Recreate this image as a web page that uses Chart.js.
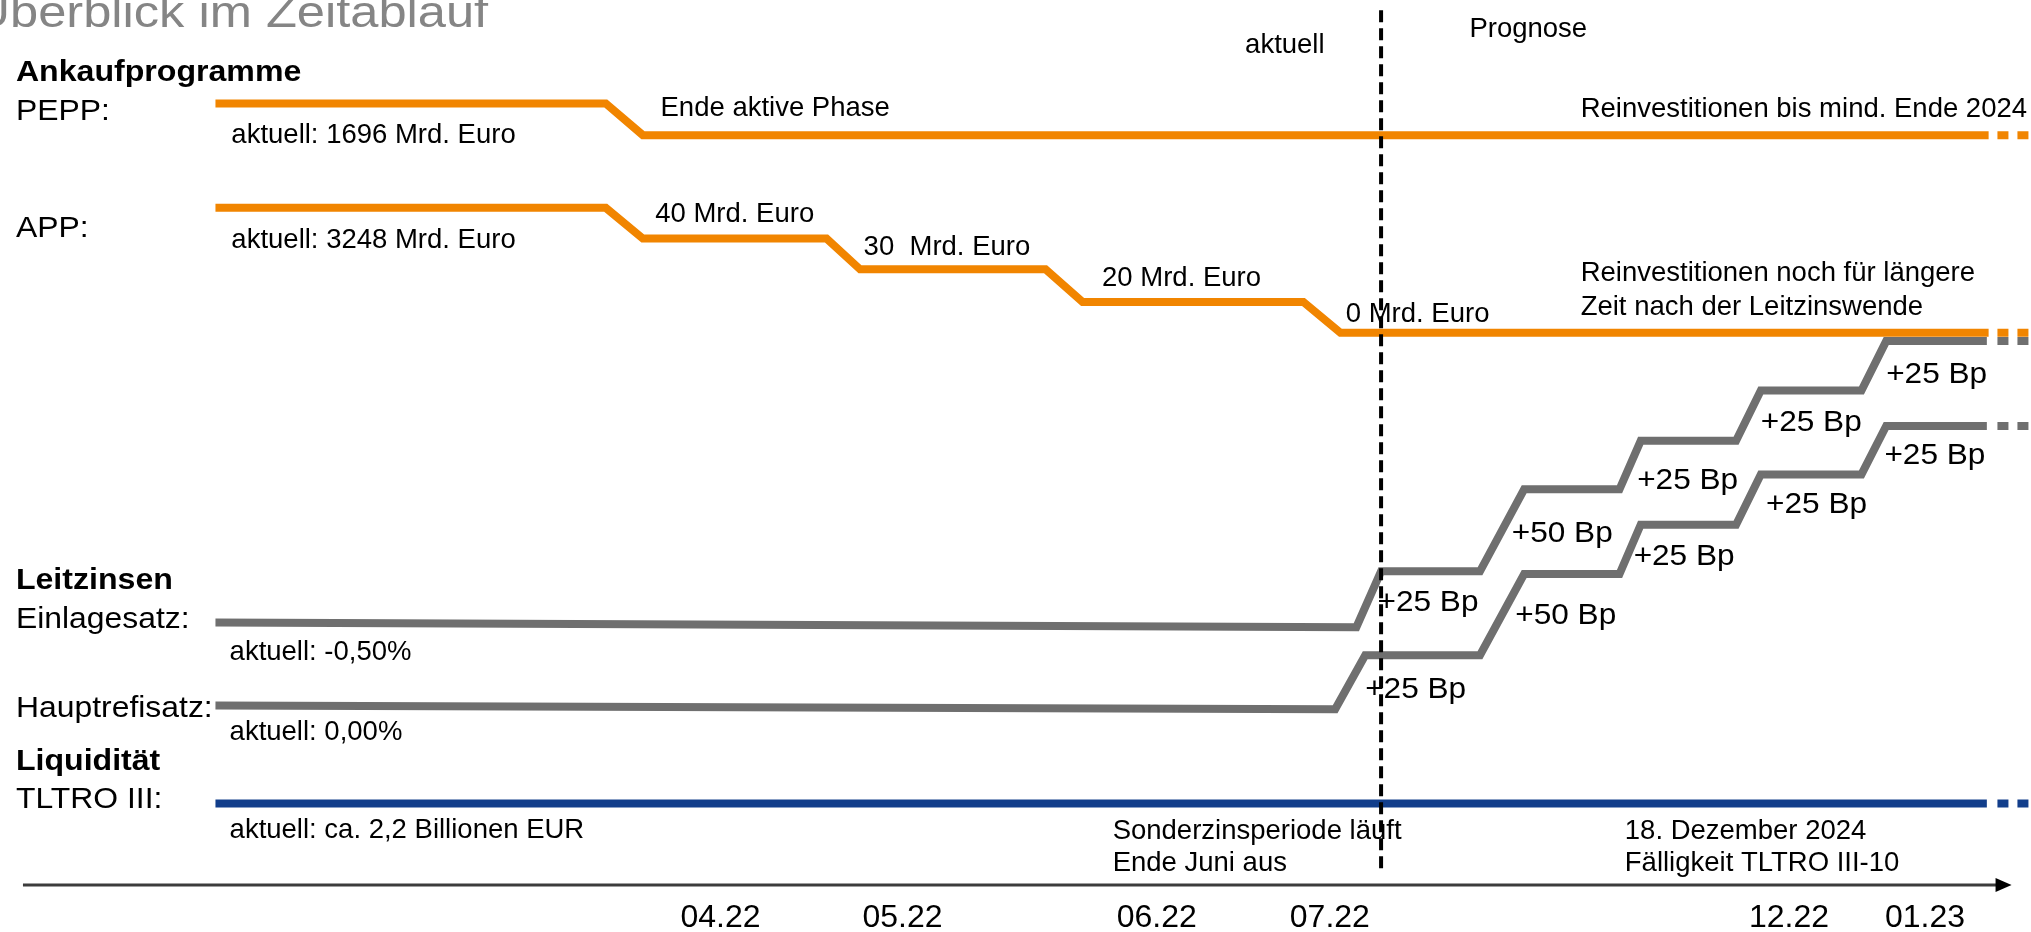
<!DOCTYPE html>
<html lang="de">
<head>
    <meta charset="UTF-8">
    <title>Überblick im Zeitablauf</title>
    <script src="https://cdn.jsdelivr.net/npm/chart.js"></script>
    <style>
        body {
            margin: 0;
            padding: 0;
            background: #fff;
            overflow: hidden;
        }
        canvas {
            display: block;
        }
    </style>
</head>
<body>
    <canvas id="zeitachse" width="2031" height="932"></canvas>
    <script>
        // Zeitachse (schematisch, 0 ... 115) und Höhe der Zeilen (0 ... 100)
        const monate = ['04.22', '05.22', '06.22', '07.22', '12.22', '01.23'];
        const monatPos = [40.8, 51.1, 65.5, 75.3, 101.3, 109.0];

        // Ankaufprogramme
        const peppX = [12.2, 34.3, 36.4, 112.6];
        const peppY = [88.9, 88.9, 85.5, 85.5];
        const appX = [12.2, 34.3, 36.4, 46.8, 48.7, 59.2, 61.3, 73.8, 75.9, 112.6];
        const appY = [77.7, 77.7, 74.4, 74.4, 71.1, 71.1, 67.6, 67.6, 64.3, 64.3];

        // Leitzinsen (Stufen teilen sich die Zeitpunkte ab der 2. Erhöhung)
        const stufenX = [83.8, 86.3, 91.7, 92.9, 98.3, 99.7, 105.4, 106.8, 112.5];
        const einlageX = [12.2, 76.8, 78.2, ...stufenX];
        const einlageY = [33.2, 32.7, 38.7, 38.7, 47.5, 47.5, 52.7, 52.7, 58.1, 58.1, 63.4, 63.4];
        const hauptX = [12.2, 75.6, 77.3, ...stufenX];
        const hauptY = [24.3, 23.9, 29.7, 29.7, 38.4, 38.4, 43.7, 43.7, 49.1, 49.1, 54.3, 54.3];

        // Liquidität
        const tltroX = [12.2, 112.5];
        const tltroY = [13.8, 13.8];

        // Fortsetzung (gepunktet) nach rechts
        const weiterX = [113.1, 115];

        // Stichtag "aktuell"
        const aktuellX = 78.2;
        const aktuellVon = 6.3;
        const aktuellBis = 98.9;

        const orange = '#f18500';
        const grau = '#6f6f6f';
        const blau = '#123e8b';

        function pts(xs, ys) {
            return xs.map((x, i) => ({ x: x, y: ys[i] }));
        }

        function linie(xs, ys, farbe, extra) {
            return Object.assign({
                data: pts(xs, ys),
                borderColor: farbe,
                borderWidth: 8,
                pointRadius: 0,
                tension: 0,
                fill: false,
                borderJoinStyle: 'miter',
                borderCapStyle: 'butt',
                clip: false
            }, extra || {});
        }

        function weiter(y, farbe) {
            return linie(weiterX, [y, y], farbe, { borderDash: [11, 9] });
        }

        // Schriftstile
        const stil = {
            titel: { size: 44, sx: 1.15, weight: 'normal', color: '#858585' },
            kopf: { size: 30, sx: 1.07, weight: 'bold', color: '#000' },
            name: { size: 29, sx: 1.1, weight: 'normal', color: '#000' },
            notiz: { size: 27.5, sx: 1.0, weight: 'normal', color: '#000' },
            bp: { size: 29.5, sx: 1.07, weight: 'normal', color: '#000' },
            monat: { size: 32, sx: 1.0, weight: 'normal', color: '#000', align: 'center' }
        };

        // Beschriftungen [Text, x, y, Stil]
        const texte = [
            ['\u00dcberblick im Zeitablauf', -1.5, 97.1, 'titel'],
            ['Ankaufprogramme', 0.9, 91.3, 'kopf'],
            ['PEPP:', 0.9, 87.1, 'name'],
            ['APP:', 0.9, 74.6, 'name'],
            ['Leitzinsen', 0.9, 36.8, 'kopf'],
            ['Einlagesatz:', 0.9, 32.6, 'name'],
            ['Hauptrefisatz:', 0.9, 23.1, 'name'],
            ['Liquidität', 0.9, 17.4, 'kopf'],
            ['TLTRO III:', 0.9, 13.3, 'name'],

            ['aktuell: 1696 Mrd. Euro', 13.1, 84.7, 'notiz'],
            ['aktuell: 3248 Mrd. Euro', 13.1, 73.4, 'notiz'],
            ['Ende aktive Phase', 37.4, 87.6, 'notiz'],
            ['40 Mrd. Euro', 37.1, 76.2, 'notiz'],
            ['30  Mrd. Euro', 48.9, 72.6, 'notiz'],
            ['20 Mrd. Euro', 62.4, 69.3, 'notiz'],
            ['0 Mrd. Euro', 76.2, 65.5, 'notiz'],
            ['aktuell', 70.5, 94.3, 'notiz'],
            ['Prognose', 83.2, 96.0, 'notiz'],
            ['Reinvestitionen bis mind. Ende 2024', 89.5, 87.5, 'notiz'],
            ['Reinvestitionen noch für längere', 89.5, 69.8, 'notiz'],
            ['Zeit nach der Leitzinswende', 89.5, 66.2, 'notiz'],
            ['aktuell: -0,50%', 13.0, 29.2, 'notiz'],
            ['aktuell: 0,00%', 13.0, 20.6, 'notiz'],
            ['aktuell: ca. 2,2 Billionen EUR', 13.0, 10.1, 'notiz'],
            ['Sonderzinsperiode läuft', 63.0, 10.0, 'notiz'],
            ['Ende Juni aus', 63.0, 6.5, 'notiz'],
            ['18. Dezember 2024', 92.0, 10.0, 'notiz'],
            ['Fälligkeit TLTRO III-10', 92.0, 6.5, 'notiz'],

            ['+25 Bp', 78.0, 34.4, 'bp'],
            ['+50 Bp', 85.6, 41.8, 'bp'],
            ['+25 Bp', 92.7, 47.5, 'bp'],
            ['+25 Bp', 99.7, 53.8, 'bp'],
            ['+25 Bp', 106.8, 58.9, 'bp'],
            ['+25 Bp', 77.3, 25.1, 'bp'],
            ['+50 Bp', 85.8, 33.0, 'bp'],
            ['+25 Bp', 92.5, 39.4, 'bp'],
            ['+25 Bp', 100.0, 45.0, 'bp'],
            ['+25 Bp', 106.7, 50.2, 'bp']
        ];

        // Zeitpfeil unten
        const achseY = 5.04;
        const achseVon = 1.3;
        const achseBis = 113.9;
        const monatY = 0.57;

        function schreibe(ctx, str, px, py, s) {
            ctx.save();
            ctx.font = s.weight + ' ' + s.size + 'px "Liberation Sans", Arial, sans-serif';
            ctx.fillStyle = s.color;
            ctx.textBaseline = 'alphabetic';
            ctx.textAlign = s.align || 'left';
            ctx.translate(px, py);
            ctx.scale(s.sx, 1);
            ctx.fillText(str, 0, 0);
            ctx.restore();
        }

        const beschriftung = {
            id: 'beschriftung',
            beforeDatasetsDraw(chart) {
                const ctx = chart.ctx;
                const xs = chart.scales.x;
                const ys = chart.scales.y;
                texte.forEach(t => {
                    schreibe(ctx, t[0], xs.getPixelForValue(t[1]), ys.getPixelForValue(t[2]), stil[t[3]]);
                });
                monate.forEach((m, i) => {
                    schreibe(ctx, m, xs.getPixelForValue(monatPos[i]), ys.getPixelForValue(monatY), stil.monat);
                });

                // Pfeil
                const y0 = ys.getPixelForValue(achseY);
                const x0 = xs.getPixelForValue(achseVon);
                const x1 = xs.getPixelForValue(achseBis);
                ctx.save();
                ctx.strokeStyle = '#3c3c3c';
                ctx.fillStyle = '#000';
                ctx.lineWidth = 3;
                ctx.beginPath();
                ctx.moveTo(x0, y0);
                ctx.lineTo(x1 - 10, y0);
                ctx.stroke();
                ctx.beginPath();
                ctx.moveTo(x1, y0);
                ctx.lineTo(x1 - 16, y0 - 7);
                ctx.lineTo(x1 - 16, y0 + 7);
                ctx.closePath();
                ctx.fill();
                ctx.restore();
            }
        };

        new Chart(document.getElementById('zeitachse'), {
            type: 'line',
            data: {
                datasets: [
                    linie([aktuellX, aktuellX], [aktuellBis, aktuellVon], '#000', { borderWidth: 4, borderDash: [12, 6] }),
                    linie(peppX, peppY, orange),
                    weiter(peppY[peppY.length - 1], orange),
                    linie(appX, appY, orange),
                    weiter(appY[appY.length - 1], orange),
                    linie(einlageX, einlageY, grau),
                    weiter(einlageY[einlageY.length - 1], grau),
                    linie(hauptX, hauptY, grau),
                    weiter(hauptY[hauptY.length - 1], grau),
                    linie(tltroX, tltroY, blau),
                    weiter(tltroY[tltroY.length - 1], blau)
                ]
            },
            options: {
                responsive: false,
                devicePixelRatio: 1,
                animation: false,
                events: [],
                layout: { padding: 0 },
                plugins: {
                    legend: { display: false },
                    tooltip: { enabled: false }
                },
                scales: {
                    x: { type: 'linear', min: 0, max: 115, display: false },
                    y: { type: 'linear', min: 0, max: 100, display: false }
                }
            },
            plugins: [beschriftung]
        });
    </script>
</body>
</html>
